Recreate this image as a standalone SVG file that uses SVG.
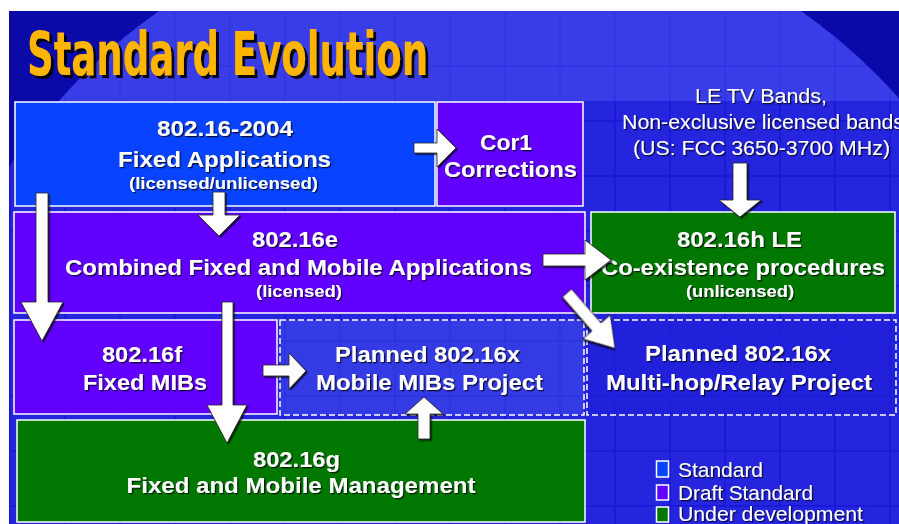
<svg xmlns="http://www.w3.org/2000/svg" width="899" height="524" viewBox="0 0 899 524">
<defs>
<style>
.box{stroke:#ffffff;stroke-width:1.5}
.std{fill:#0844ff}
.draft{fill:#6200ff}
.dev{fill:#007800}
.plan{stroke:#ffffff;stroke-width:1.5;stroke-dasharray:6 3}
text{font-family:"Liberation Sans",Arial,sans-serif;fill:#ffffff;filter:url(#ts)}
.b{font-weight:bold;font-size:22px}
.s{font-weight:bold;font-size:17px}
.n{font-size:20px}
.lg{font-size:21px}
.c{text-anchor:middle}
.arrow{fill:#ffffff;stroke:#222222;stroke-width:0.8;filter:url(#as)}
</style>
<filter id="ts" x="-10%" y="-30%" width="120%" height="160%">
<feDropShadow dx="1.3" dy="1.3" stdDeviation="0.4" flood-color="#000000" flood-opacity="0.75"/>
</filter>
<filter id="as" x="-20%" y="-20%" width="140%" height="140%">
<feDropShadow dx="1.5" dy="1.5" stdDeviation="0.6" flood-color="#000000" flood-opacity="0.7"/>
</filter>
<filter id="tsh" x="-5%" y="-20%" width="110%" height="140%">
<feDropShadow dx="3" dy="3" stdDeviation="0.5" flood-color="#000000" flood-opacity="0.9"/>
</filter>
<pattern id="grid" x="10" y="11" width="55" height="55" patternUnits="userSpaceOnUse">
<rect x="1" y="1" width="53" height="53" fill="#6a78ff" opacity="0.12"/>
</pattern>
<clipPath id="bgclip"><rect x="9" y="11" width="890" height="513"/></clipPath>
<clipPath id="globe"><circle cx="480" cy="470" r="560"/></clipPath>
</defs>

<rect x="0" y="0" width="899" height="524" fill="#ffffff"/>
<g id="background" clip-path="url(#bgclip)">
<rect x="9" y="11" width="890" height="513" fill="#0a0aa8"/>
<circle cx="480" cy="470" r="560" fill="#1a1ad8"/>
<circle cx="480" cy="470" r="560" fill="url(#grid)"/>
<rect x="9" y="11" width="890" height="90" fill="#6a78ff" opacity="0.3" clip-path="url(#globe)"/>
</g>

<text x="27" y="75" font-size="60" font-weight="bold" textLength="401" lengthAdjust="spacingAndGlyphs" style="font-family:'DejaVu Sans Condensed','Liberation Sans',sans-serif;fill:#ffb400;filter:url(#tsh)">Standard Evolution</text>

<g id="n-80216-2004">
<rect class="box std" x="15" y="102" width="420" height="104"/>
<text class="b c" x="225" y="136" textLength="136" lengthAdjust="spacingAndGlyphs">802.16-2004</text>
<text class="b c" x="224.5" y="167" textLength="213" lengthAdjust="spacingAndGlyphs">Fixed Applications</text>
<text class="s c" x="223.5" y="189" textLength="189" lengthAdjust="spacingAndGlyphs">(licensed/unlicensed)</text>
</g>

<g id="n-cor1">
<rect class="box draft" x="437" y="102" width="146" height="104"/>
<text class="b c" x="506" y="150" textLength="52" lengthAdjust="spacingAndGlyphs">Cor1</text>
<text class="b c" x="510.5" y="177" textLength="133" lengthAdjust="spacingAndGlyphs">Corrections</text>
</g>

<g id="n-letv">
<text class="n c" x="761" y="103" textLength="132" lengthAdjust="spacingAndGlyphs">LE TV Bands,</text>
<text class="n" x="622" y="129" textLength="282" lengthAdjust="spacingAndGlyphs">Non-exclusive licensed bands</text>
<text class="n c" x="761.5" y="155" textLength="257" lengthAdjust="spacingAndGlyphs">(US: FCC 3650-3700 MHz)</text>
</g>

<g id="n-80216e">
<rect class="box draft" x="14" y="212" width="571" height="101"/>
<text class="b c" x="295" y="247" textLength="86" lengthAdjust="spacingAndGlyphs">802.16e</text>
<text class="b c" x="298.5" y="275" textLength="467" lengthAdjust="spacingAndGlyphs">Combined Fixed and Mobile Applications</text>
<text class="s c" x="299" y="297" textLength="86" lengthAdjust="spacingAndGlyphs">(licensed)</text>
</g>

<g id="n-80216h">
<rect class="box dev" x="591" y="212" width="304" height="101"/>
<text class="b c" x="739.5" y="247" textLength="125" lengthAdjust="spacingAndGlyphs">802.16h LE</text>
<text class="b c" x="743" y="275" textLength="284" lengthAdjust="spacingAndGlyphs">Co-existence procedures</text>
<text class="s c" x="740" y="297" textLength="108" lengthAdjust="spacingAndGlyphs">(unlicensed)</text>
</g>

<g id="n-80216f">
<rect class="box draft" x="14" y="320" width="263" height="94"/>
<text class="b c" x="142" y="362" textLength="80" lengthAdjust="spacingAndGlyphs">802.16f</text>
<text class="b c" x="145" y="390" textLength="124" lengthAdjust="spacingAndGlyphs">Fixed MIBs</text>
</g>

<g id="n-mibs">
<rect class="plan" x="280" y="320" width="304" height="95" fill="#4a55ee" fill-opacity="0.45"/>
<text class="b c" x="427.5" y="362" textLength="185" lengthAdjust="spacingAndGlyphs">Planned 802.16x</text>
<text class="b c" x="429.5" y="390" textLength="227" lengthAdjust="spacingAndGlyphs">Mobile MIBs Project</text>
</g>

<g id="n-multihop">
<rect class="plan" x="587" y="320" width="309" height="95" fill="#2020dc" fill-opacity="0.6"/>
<text class="b c" x="738" y="361" textLength="186" lengthAdjust="spacingAndGlyphs">Planned 802.16x</text>
<text class="b c" x="739" y="390" textLength="266" lengthAdjust="spacingAndGlyphs">Multi-hop/Relay Project</text>
</g>

<g id="n-80216g">
<rect class="box dev" x="17" y="420" width="568" height="102"/>
<text class="b c" x="296.5" y="467" textLength="87" lengthAdjust="spacingAndGlyphs">802.16g</text>
<text class="b c" x="301" y="493" textLength="349" lengthAdjust="spacingAndGlyphs">Fixed and Mobile Management</text>
</g>

<g id="connectors">
<polygon class="arrow" points="414,143 437,143 437,129 456,148 437,167 437,153 414,153"/>
<polygon class="arrow" points="213,192 225,192 225,215 240,215 219,236 198,215 213,215"/>
<polygon class="arrow" points="36,193 48,193 48,302 63,302 42,341 21,302 36,302"/>
<polygon class="arrow" points="222,302 233,302 233,405 247,405 227,443 207,405 222,405"/>
<polygon class="arrow" points="543,254 585,254 585,240 611,260 585,280 585,266 543,266"/>
<polygon class="arrow" transform="translate(567,293) rotate(49)" points="0,-6 45,-6 45,-18 73,0 45,18 45,6 0,6"/>
<polygon class="arrow" points="263,365 289,365 289,353 306,371 289,389 289,376 263,376"/>
<polygon class="arrow" points="418,439 430,439 430,414 443,414 424,397 405,414 418,414"/>
<polygon class="arrow" points="733,163 747,163 747,200 761,200 740,217 719,200 733,200"/>
</g>

<g id="legend">
<rect class="box std" x="656.5" y="461" width="12" height="16"/>
<rect class="box draft" x="656.5" y="485" width="12" height="15"/>
<rect class="box dev" x="656.5" y="507" width="12" height="15"/>
<text class="lg" x="678" y="477" textLength="85" lengthAdjust="spacingAndGlyphs">Standard</text>
<text class="lg" x="678" y="500" textLength="135" lengthAdjust="spacingAndGlyphs">Draft Standard</text>
<text class="lg" x="678" y="521" textLength="185" lengthAdjust="spacingAndGlyphs">Under development</text>
</g>
</svg>
